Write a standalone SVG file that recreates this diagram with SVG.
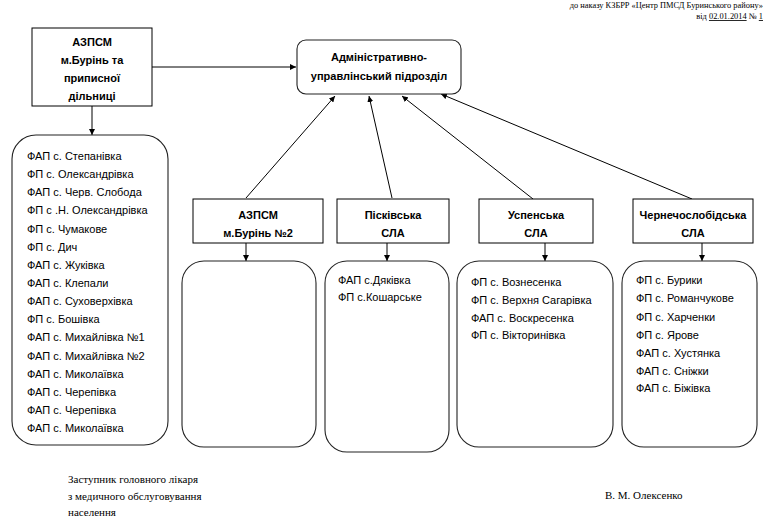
<svg xmlns="http://www.w3.org/2000/svg" width="781" height="531" viewBox="0 0 781 531">
<style>
.box{fill:#fff;stroke:#000;stroke-width:1}
.rbox{fill:#fff;stroke:#222;stroke-width:1.1}
.b{font-family:"Liberation Sans",Arial,sans-serif;font-weight:bold;font-size:11px;fill:#000;text-anchor:middle}
.t{font-family:"Liberation Sans",Arial,sans-serif;font-size:11px;fill:#000}
.s{font-family:"Liberation Serif","Times New Roman",serif;font-size:11px;fill:#000}
.h{font-family:"Liberation Serif","Times New Roman",serif;font-size:8.4px;fill:#000}
.c{stroke:#000;stroke-width:1;fill:none;marker-end:url(#ah)}
</style>
<defs>
<marker id="ah" viewBox="0 0 10 10" refX="10" refY="5" markerWidth="6" markerHeight="6" markerUnits="userSpaceOnUse" orient="auto">
<path d="M0,0 L10,5 L0,10 z" fill="#000"/>
</marker>
</defs>
<rect width="781" height="531" fill="#fff"/>

<g id="header">
<text class="h" x="763" y="8" text-anchor="end">до наказу КЗБРР «Центр ПМСД Буринського  району»</text>
<text class="h" x="763" y="19" text-anchor="end">від <tspan text-decoration="underline">02.01.2014</tspan>   №  <tspan text-decoration="underline"> 1</tspan></text>
</g>

<g id="connectors">
<line class="c" x1="152" y1="67" x2="296" y2="67"/>
<line class="c" x1="92" y1="106" x2="92" y2="135"/>
<line class="c" x1="246" y1="198" x2="335" y2="96"/>
<line class="c" x1="392" y1="198" x2="369" y2="96"/>
<line class="c" x1="533" y1="199" x2="402" y2="96"/>
<line class="c" x1="692" y1="199" x2="441" y2="94"/>
<line class="c" x1="246" y1="243" x2="246" y2="261"/>
<line class="c" x1="387" y1="243" x2="387" y2="261"/>
<line class="c" x1="545" y1="243" x2="545" y2="261"/>
<line class="c" x1="702" y1="243" x2="702" y2="261"/>
</g>

<g id="azpsm1">
<rect class="box" x="32" y="28" width="120" height="78"/>
<text class="b" x="92" y="46">АЗПСМ</text>
<text class="b" x="92" y="64">м.Бурінь та</text>
<text class="b" x="92" y="82">приписної</text>
<text class="b" x="92" y="100">дільниці</text>
</g>

<g id="admin">
<rect class="rbox" x="297" y="40" width="164" height="54" rx="9"/>
<text class="b" x="379" y="61">Адміністративно-</text>
<text class="b" x="379" y="80">управлінський  підрозділ</text>
</g>

<g id="list1">
<rect class="rbox" x="12" y="135" width="156" height="310" rx="24"/>
<text class="t" x="27" y="160">ФАП с. Степанівка</text>
<text class="t" x="27" y="178">ФП с. Олександрівка</text>
<text class="t" x="27" y="196">ФАП с. Черв. Слобода</text>
<text class="t" x="27" y="214">ФП с .Н. Олександрівка</text>
<text class="t" x="27" y="233">ФП с. Чумакове</text>
<text class="t" x="27" y="251">ФП с. Дич</text>
<text class="t" x="27" y="269">ФАП с. Жуківка</text>
<text class="t" x="27" y="287">ФАП с. Клепали</text>
<text class="t" x="27" y="305">ФАП с. Суховерхівка</text>
<text class="t" x="27" y="323">ФП с. Бошівка</text>
<text class="t" x="27" y="341">ФАП с. Михайлівка №1</text>
<text class="t" x="27" y="360">ФАП с. Михайлівка №2</text>
<text class="t" x="27" y="378">ФАП с. Миколаївка</text>
<text class="t" x="27" y="396">ФАП с. Черепівка</text>
<text class="t" x="27" y="414">ФАП с. Черепівка</text>
<text class="t" x="27" y="432">ФАП с. Миколаївка</text>
</g>

<g id="azpsm2">
<rect class="box" x="193" y="199" width="130" height="44"/>
<text class="b" x="258" y="219">АЗПСМ</text>
<text class="b" x="258" y="237">м.Бурінь №2</text>
</g>

<g id="piskivska">
<rect class="box" x="337" y="199" width="112" height="44"/>
<text class="b" x="393" y="219">Пісківська</text>
<text class="b" x="393" y="237">СЛА</text>
</g>

<g id="uspenska">
<rect class="box" x="479" y="199" width="114" height="44"/>
<text class="b" x="536" y="219">Успенська</text>
<text class="b" x="536" y="237">СЛА</text>
</g>

<g id="chernecha">
<rect class="box" x="633" y="199" width="120" height="44"/>
<text class="b" x="693" y="219">Чернечослобідська</text>
<text class="b" x="693" y="237">СЛА</text>
</g>

<g id="list2">
<rect class="rbox" x="182" y="261" width="134" height="186" rx="22"/>
</g>

<g id="list3">
<rect class="rbox" x="325" y="261" width="124" height="191" rx="22"/>
<text class="t" x="338" y="284">ФАП с.Дяківка</text>
<text class="t" x="338" y="301">ФП с.Кошарське</text>
</g>

<g id="list4">
<rect class="rbox" x="457" y="261" width="156" height="186" rx="22"/>
<text class="t" x="471" y="286">ФП с. Вознесенка</text>
<text class="t" x="471" y="304">ФП с. Верхня Сагарівка</text>
<text class="t" x="471" y="322">ФАП с. Воскресенка</text>
<text class="t" x="471" y="339">ФП с. Вікторинівка</text>
</g>

<g id="list5">
<rect class="rbox" x="622" y="261" width="135" height="186" rx="22"/>
<text class="t" x="636" y="284">ФП с. Бурики</text>
<text class="t" x="636" y="302">ФП с. Романчукове</text>
<text class="t" x="636" y="321">ФП с. Харченки</text>
<text class="t" x="636" y="339">ФП с. Ярове</text>
<text class="t" x="636" y="357">ФАП с. Хустянка</text>
<text class="t" x="636" y="375">ФАП с. Сніжки</text>
<text class="t" x="636" y="392">ФАП с. Біжівка</text>
</g>

<g id="footer">
<text class="s" x="68" y="483">Заступник головного лікаря</text>
<text class="s" x="68" y="500">з медичного обслуговування</text>
<text class="s" x="68" y="516">населення</text>
<text class="s" x="605" y="499">В. М. Олексенко</text>
</g>
</svg>
